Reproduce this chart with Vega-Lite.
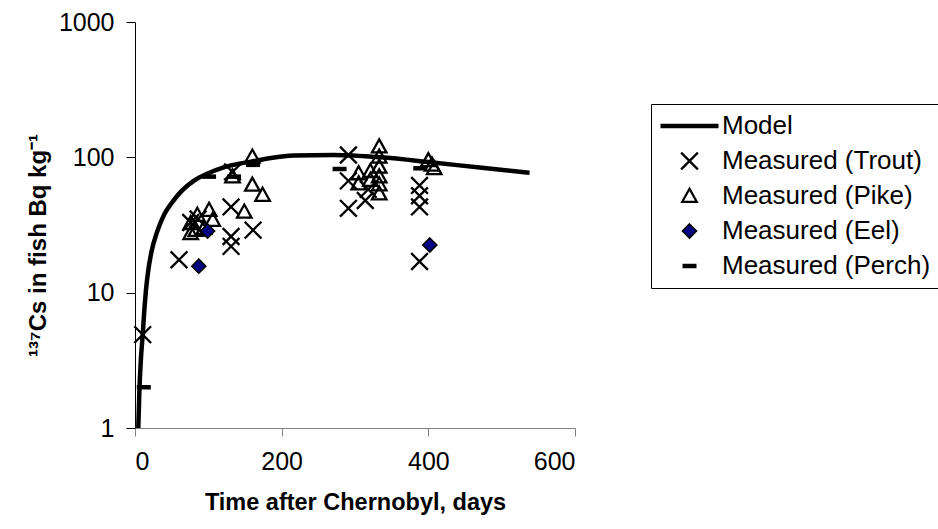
{
  "$schema": "https://vega.github.io/schema/vega-lite/v6.json",
  "width": 440,
  "height": 406,
  "autosize": {"type": "none"},
  "padding": {"left": 135, "top": 22, "right": 363, "bottom": 101},
  "background": "white",
  "config": {
    "view": {"stroke": null},
    "font": "Liberation Sans",
    "axis": {"grid": false, "labelFont": "Liberation Sans", "titleFont": "Liberation Sans", "labelColor": "black", "titleColor": "black"}
  },
  "datasets": {
    "model": [
      {"day": 4.5, "cs": 1}, {"day": 6, "cs": 1.9}, {"day": 8, "cs": 3.2}, {"day": 10.5, "cs": 4.9},
      {"day": 13, "cs": 7.8}, {"day": 15, "cs": 10.5}, {"day": 18, "cs": 14.5}, {"day": 22, "cs": 19.5},
      {"day": 30, "cs": 28}, {"day": 40, "cs": 38}, {"day": 50, "cs": 46}, {"day": 63, "cs": 56},
      {"day": 80, "cs": 67}, {"day": 99, "cs": 76}, {"day": 120, "cs": 84}, {"day": 158, "cs": 93},
      {"day": 216, "cs": 103}, {"day": 271, "cs": 104}, {"day": 335, "cs": 100}, {"day": 403, "cs": 92},
      {"day": 470, "cs": 84}, {"day": 538, "cs": 77}
    ],
    "measured": [
      {"day": 10.5, "cs": 4.9, "series": "Measured (Trout)"},
      {"day": 60, "cs": 17.5, "series": "Measured (Trout)"},
      {"day": 76, "cs": 33, "series": "Measured (Trout)"},
      {"day": 86, "cs": 35, "series": "Measured (Trout)"},
      {"day": 131, "cs": 43, "series": "Measured (Trout)"},
      {"day": 131, "cs": 26, "series": "Measured (Trout)"},
      {"day": 131, "cs": 22, "series": "Measured (Trout)"},
      {"day": 133, "cs": 78, "series": "Measured (Trout)"},
      {"day": 161, "cs": 29, "series": "Measured (Trout)"},
      {"day": 291, "cs": 104, "series": "Measured (Trout)"},
      {"day": 291, "cs": 67, "series": "Measured (Trout)"},
      {"day": 291, "cs": 42, "series": "Measured (Trout)"},
      {"day": 314, "cs": 48, "series": "Measured (Trout)"},
      {"day": 318, "cs": 58, "series": "Measured (Trout)"},
      {"day": 388, "cs": 62, "series": "Measured (Trout)"},
      {"day": 388, "cs": 52, "series": "Measured (Trout)"},
      {"day": 388, "cs": 43, "series": "Measured (Trout)"},
      {"day": 388, "cs": 17, "series": "Measured (Trout)"},
      {"day": 76, "cs": 32.6, "series": "Measured (Pike)"},
      {"day": 85, "cs": 37.5, "series": "Measured (Pike)"},
      {"day": 101, "cs": 40.8, "series": "Measured (Pike)"},
      {"day": 106, "cs": 34.4, "series": "Measured (Pike)"},
      {"day": 83, "cs": 29, "series": "Measured (Pike)"},
      {"day": 94, "cs": 30, "series": "Measured (Pike)"},
      {"day": 76, "cs": 27.5, "series": "Measured (Pike)"},
      {"day": 160, "cs": 101, "series": "Measured (Pike)"},
      {"day": 133, "cs": 72, "series": "Measured (Pike)"},
      {"day": 160, "cs": 62.6, "series": "Measured (Pike)"},
      {"day": 174, "cs": 52.7, "series": "Measured (Pike)"},
      {"day": 149, "cs": 39.6, "series": "Measured (Pike)"},
      {"day": 305, "cs": 76, "series": "Measured (Pike)"},
      {"day": 305, "cs": 64, "series": "Measured (Pike)"},
      {"day": 321, "cs": 79, "series": "Measured (Pike)"},
      {"day": 321, "cs": 68, "series": "Measured (Pike)"},
      {"day": 333, "cs": 120, "series": "Measured (Pike)"},
      {"day": 333, "cs": 101, "series": "Measured (Pike)"},
      {"day": 333, "cs": 85, "series": "Measured (Pike)"},
      {"day": 333, "cs": 72, "series": "Measured (Pike)"},
      {"day": 333, "cs": 63, "series": "Measured (Pike)"},
      {"day": 333, "cs": 54, "series": "Measured (Pike)"},
      {"day": 400, "cs": 95, "series": "Measured (Pike)"},
      {"day": 405, "cs": 88, "series": "Measured (Pike)"},
      {"day": 408, "cs": 83, "series": "Measured (Pike)"},
      {"day": 87, "cs": 15.7, "series": "Measured (Eel)"},
      {"day": 99, "cs": 28.5, "series": "Measured (Eel)"},
      {"day": 402, "cs": 22.5, "series": "Measured (Eel)"},
      {"day": 12, "cs": 2, "series": "Measured (Perch)"},
      {"day": 101, "cs": 72, "series": "Measured (Perch)"},
      {"day": 135, "cs": 72, "series": "Measured (Perch)"},
      {"day": 161, "cs": 88, "series": "Measured (Perch)"},
      {"day": 279, "cs": 82, "series": "Measured (Perch)"},
      {"day": 389, "cs": 83, "series": "Measured (Perch)"}
    ]
  },
  "encoding": {
    "x": {
      "field": "day", "type": "quantitative",
      "scale": {"domain": [0, 600], "nice": false, "zero": false},
      "axis": {"values": [0, 200, 400, 600], "tickSize": 8, "tickColor": "#808080", "domainColor": "#808080",
               "labelFontSize": 25, "labelPadding": 13, "title": "Time after Chernobyl, days",
               "titleFontSize": 23.5, "titleFontWeight": "bold", "titlePadding": 16}
    },
    "y": {
      "field": "cs", "type": "quantitative",
      "scale": {"type": "log", "domain": [1, 1000], "nice": false},
      "axis": {"values": [1, 10, 100, 1000], "format": "d", "tickSize": 9, "tickColor": "black", "domainColor": "black",
               "labelFontSize": 25, "labelPadding": 12, "title": "¹³⁷Cs in fish Bq kg⁻¹",
               "titleFontSize": 24, "titleFontWeight": "bold", "titlePadding": 8, "titleY": 223}
    }
  },
  "layer": [
    {
      "data": {"name": "model"},
      "mark": {"type": "line", "stroke": "black", "strokeWidth": 4.5, "interpolate": "monotone", "clip": true},
      "encoding": {}
    },
    {
      "data": {"name": "measured"},
      "mark": {"type": "point", "opacity": 1, "strokeOpacity": 1, "fillOpacity": 1},
      "encoding": {
        "shape": {"field": "series", "type": "nominal",
          "scale": {"domain": ["Model", "Measured (Trout)", "Measured (Pike)", "Measured (Eel)", "Measured (Perch)"],
                    "range": ["M-1,0H1", "M-1,-1L1,1M-1,1L1,-1", "M0,-1L1,0.8L-1,0.8Z", "M0,-1L1,0L0,1L-1,0Z", "M-1,0H1"]},
          "legend": {"title": null, "orient": "none", "legendX": 516, "legendY": 82, "strokeColor": "black", "fillColor": "white",
                     "padding": 7, "clipHeight": 30, "rowPadding": 5, "labelFontSize": 26, "labelFont": "Liberation Sans",
                     "labelColor": "black", "labelLimit": 400, "symbolOffset": 0, "labelOffset": 1, "cornerRadius": 0}},
        "stroke": {"field": "series", "type": "nominal",
          "scale": {"domain": ["Model", "Measured (Trout)", "Measured (Pike)", "Measured (Eel)", "Measured (Perch)"],
                    "range": ["black", "black", "black", "black", "black"]},
          "legend": {"title": null, "orient": "none", "legendX": 516, "legendY": 82, "strokeColor": "black", "fillColor": "white",
                     "padding": 7, "clipHeight": 30, "rowPadding": 5, "labelFontSize": 26, "labelFont": "Liberation Sans",
                     "labelColor": "black", "labelLimit": 400, "symbolOffset": 0, "labelOffset": 1, "cornerRadius": 0}},
        "fill": {"field": "series", "type": "nominal",
          "scale": {"domain": ["Model", "Measured (Trout)", "Measured (Pike)", "Measured (Eel)", "Measured (Perch)"],
                    "range": ["transparent", "transparent", "transparent", "#000080", "transparent"]},
          "legend": {"title": null, "orient": "none", "legendX": 516, "legendY": 82, "strokeColor": "black", "fillColor": "white",
                     "padding": 7, "clipHeight": 30, "rowPadding": 5, "labelFontSize": 26, "labelFont": "Liberation Sans",
                     "labelColor": "black", "labelLimit": 400, "symbolOffset": 0, "labelOffset": 1, "cornerRadius": 0}},
        "size": {"field": "series", "type": "nominal",
          "scale": {"type": "ordinal", "domain": ["Model", "Measured (Trout)", "Measured (Pike)", "Measured (Eel)", "Measured (Perch)"],
                    "range": [3364, 280, 210, 200, 196]},
          "legend": {"title": null, "orient": "none", "legendX": 516, "legendY": 82, "strokeColor": "black", "fillColor": "white",
                     "padding": 7, "clipHeight": 30, "rowPadding": 5, "labelFontSize": 26, "labelFont": "Liberation Sans",
                     "labelColor": "black", "labelLimit": 400, "symbolOffset": 0, "labelOffset": 1, "cornerRadius": 0}},
        "strokeWidth": {"field": "series", "type": "nominal",
          "scale": {"type": "ordinal", "domain": ["Model", "Measured (Trout)", "Measured (Pike)", "Measured (Eel)", "Measured (Perch)"],
                    "range": [4.5, 2.3, 2.3, 1.5, 4.5]},
          "legend": {"title": null, "orient": "none", "legendX": 516, "legendY": 82, "strokeColor": "black", "fillColor": "white",
                     "padding": 7, "clipHeight": 30, "rowPadding": 5, "labelFontSize": 26, "labelFont": "Liberation Sans",
                     "labelColor": "black", "labelLimit": 400, "symbolOffset": 0, "labelOffset": 1, "cornerRadius": 0}}
      }
    }
  ]
}
